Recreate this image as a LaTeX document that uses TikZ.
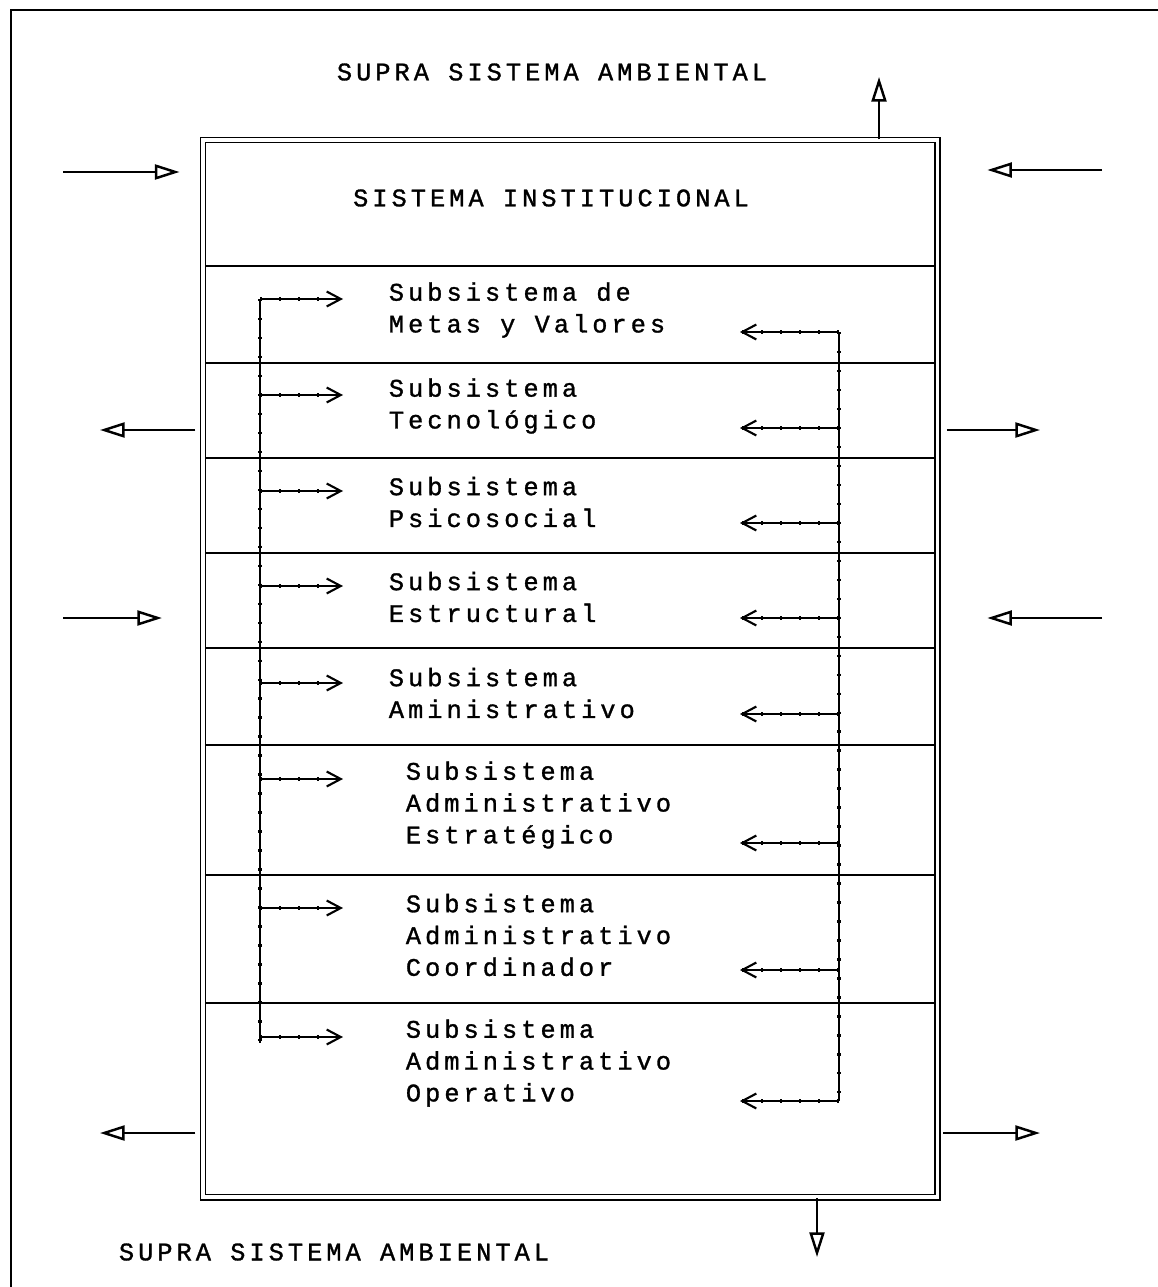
\documentclass[tikz,border=0pt]{standalone}
\usepackage{fontspec}
\usetikzlibrary{arrows.meta}
\newfontfamily\plotfont[LetterSpace=16, FakeBold=1.2]{Liberation Mono}

\begin{document}
\begin{tikzpicture}[x=0.02cm, y=-0.02cm, line width=1pt,
  font={\plotfont\fontsize{14.4pt}{18.1pt}\selectfont},
  io/.style={-{Triangle[open, length=14pt, width=8.5pt, line width=1.4pt]}},
  bus/.style={line width=1pt, postaction={draw, -, line width=2.6pt, dash pattern=on 1.4pt off 9.4pt}},
  tap/.style={bus, -{Straight Barb[length=8pt, width=8.5pt, line width=1.2pt]}},
  lab/.style={anchor=west, align=left, inner sep=0pt}]
  \useasboundingbox (0,0) rectangle (1158,1287);
  % outer frame of the supra system
  \draw[line width=1.2pt] (11,1287) -- (11,10) -- (1158,10);
  \node (supraN) at (552,72) {SUPRA SISTEMA AMBIENTAL};
  \node (supraS) at (334,1252) {SUPRA SISTEMA AMBIENTAL};

  % institutional system
  \node[draw, double, double distance=2.2pt, line width=0.8pt, minimum width=14.69cm, minimum height=21.15cm, inner sep=0pt] (sis) at (570.25,668.75) {};
  \node (inst) at (551,198) {SISTEMA INSTITUCIONAL};
  \foreach \y in {266,363,458,553,648,745,875,1003}
    \draw[shorten <=1.7pt, shorten >=1.7pt] (sis.west |- 0,\y) -- (sis.east |- 0,\y);

  \node[lab] (metas) at (388,310) {Subsistema de\\Metas y Valores};
  \node[lab] (tecno) at (388,406) {Subsistema\\Tecnológico};
  \node[lab] (psico) at (388,502) {Subsistema\\Psicosocial};
  \node[lab] (estruc) at (388,597) {Subsistema\\Estructural};
  \node[lab] (amin) at (388,693) {Subsistema\\Aministrativo};
  \node[lab] (estrat) at (405,805) {Subsistema\\Administrativo\\Estratégico};
  \node[lab] (coord) at (405,935) {Subsistema\\Administrativo\\Coordinador};
  \node[lab] (oper) at (405,1063) {Subsistema\\Administrativo\\Operativo};

  % feedback buses
  \coordinate (busL) at (260,299);
  \coordinate (busR) at (839,332);
  \draw[bus] (busL) -- (busL |- 0,1043);
  \foreach \y in {299,395,491,586,683,779,908,1037}
    \draw[tap] (busL |- 0,\y) -- ++(83,0);
  \draw[bus] (busR) -- (busR |- 0,1101);
  \foreach \y in {332,428,523,618,714,843,970,1101}
    \draw[tap] (busR |- 0,\y) -- ++(-99,0);

  % inputs and outputs
  \coordinate (inNW) at (63,172);
  \coordinate (inSW) at (63,618);
  \coordinate (inNE) at (1102,170);
  \coordinate (inSE) at (1102,618);
  \coordinate (outNW) at (100,430);
  \coordinate (outSW) at (100,1133);
  \coordinate (outNE) at (1040,430);
  \coordinate (outSE) at (1040,1133);
  \coordinate (outN) at (879,77);
  \coordinate (outS) at (817,1257);
  \draw[io, shorten >=13pt] (inNW) -- (inNW -| sis.west);
  \draw[io, shorten >=23pt] (inSW) -- (inSW -| sis.west);
  \draw[io, shorten >=28pt] (inNE) -- (inNE -| sis.east);
  \draw[io, shorten >=28pt] (inSE) -- (inSE -| sis.east);
  \draw[io, shorten <=4pt] (outNW -| sis.west) -- (outNW);
  \draw[io, shorten <=4pt] (outSW -| sis.west) -- (outSW);
  \draw[io, shorten <=5pt] (outNE -| sis.east) -- (outNE);
  \draw[io, shorten <=3pt] (outSE -| sis.east) -- (outSE);
  \draw[io] (outN |- sis.north) -- (outN);
  \draw[io] (outS |- sis.south) -- (outS);
\end{tikzpicture}
\end{document}
